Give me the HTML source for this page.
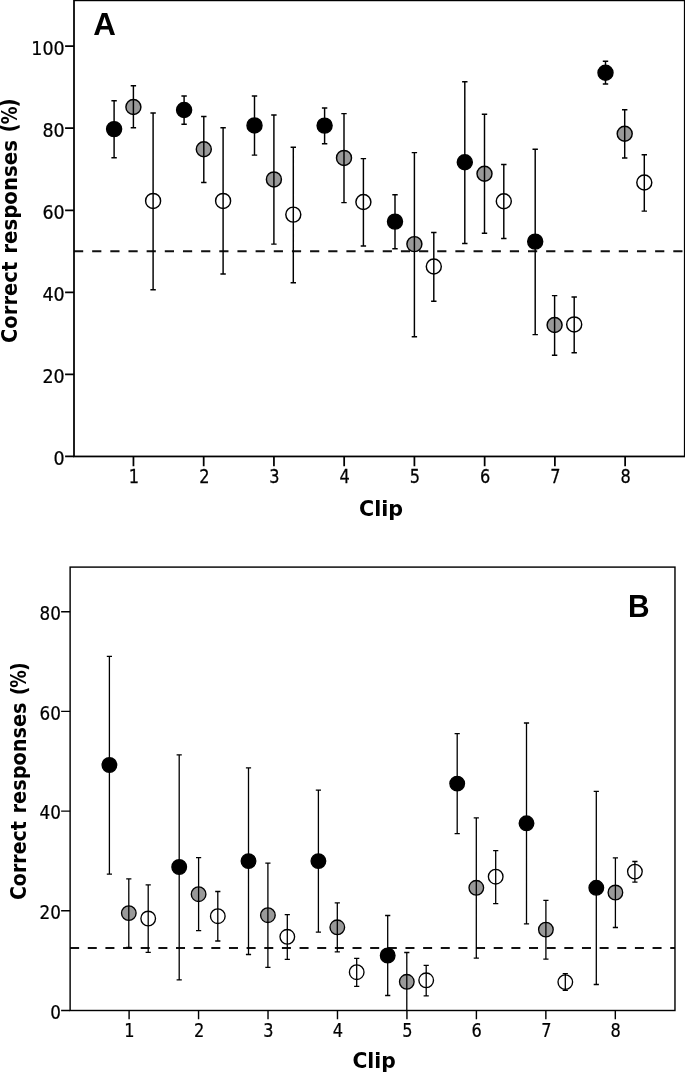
<!DOCTYPE html>
<html lang="en">
<head>
<meta charset="utf-8">
<title>Correct responses by clip</title>
<style>
html,body{margin:0;padding:0;background:#fff;}
body{width:685px;height:1072px;overflow:hidden;}
svg{display:block;}
</style>
</head>
<body>
<svg width="685" height="1072" viewBox="0 0 685 1072">
<rect width="685" height="1072" fill="#fff"/>
<g id="panelA">
<line x1="74" y1="251.15" x2="684.75" y2="251.15" stroke="#111" stroke-width="1.95" stroke-dasharray="9.2 8.96"/>
<circle cx="114.1" cy="129.1" r="7.5" fill="#000" stroke="#000" stroke-width="1.45"/>
<circle cx="133.4" cy="107" r="7.5" fill="#999" stroke="#000" stroke-width="1.45"/>
<circle cx="153.1" cy="200.9" r="7.5" fill="#fff" stroke="#000" stroke-width="1.45"/>
<circle cx="184.1" cy="110" r="7.5" fill="#000" stroke="#000" stroke-width="1.45"/>
<circle cx="203.8" cy="149.2" r="7.5" fill="#999" stroke="#000" stroke-width="1.45"/>
<circle cx="223.1" cy="200.9" r="7.5" fill="#fff" stroke="#000" stroke-width="1.45"/>
<circle cx="254.5" cy="125.4" r="7.5" fill="#000" stroke="#000" stroke-width="1.45"/>
<circle cx="273.9" cy="179.4" r="7.5" fill="#999" stroke="#000" stroke-width="1.45"/>
<circle cx="293.3" cy="214.6" r="7.5" fill="#fff" stroke="#000" stroke-width="1.45"/>
<circle cx="324.6" cy="125.6" r="7.5" fill="#000" stroke="#000" stroke-width="1.45"/>
<circle cx="344" cy="157.9" r="7.5" fill="#999" stroke="#000" stroke-width="1.45"/>
<circle cx="363.4" cy="202" r="7.5" fill="#fff" stroke="#000" stroke-width="1.45"/>
<circle cx="395" cy="221.6" r="7.5" fill="#000" stroke="#000" stroke-width="1.45"/>
<circle cx="414.4" cy="244.1" r="7.5" fill="#999" stroke="#000" stroke-width="1.45"/>
<circle cx="433.8" cy="266.5" r="7.5" fill="#fff" stroke="#000" stroke-width="1.45"/>
<circle cx="464.8" cy="162.3" r="7.5" fill="#000" stroke="#000" stroke-width="1.45"/>
<circle cx="484.5" cy="173.8" r="7.5" fill="#999" stroke="#000" stroke-width="1.45"/>
<circle cx="503.8" cy="201.3" r="7.5" fill="#fff" stroke="#000" stroke-width="1.45"/>
<circle cx="535.2" cy="241.6" r="7.5" fill="#000" stroke="#000" stroke-width="1.45"/>
<circle cx="554.6" cy="325" r="7.5" fill="#999" stroke="#000" stroke-width="1.45"/>
<circle cx="574.2" cy="324.4" r="7.5" fill="#fff" stroke="#000" stroke-width="1.45"/>
<circle cx="605.5" cy="72.7" r="7.5" fill="#000" stroke="#000" stroke-width="1.45"/>
<circle cx="624.7" cy="133.7" r="7.5" fill="#999" stroke="#000" stroke-width="1.45"/>
<circle cx="644.3" cy="182.5" r="7.5" fill="#fff" stroke="#000" stroke-width="1.45"/>
<path d="M114.1 100.7V157.7M111.4 100.7H116.8M111.4 157.7H116.8M133.4 85.8V127.8M130.7 85.8H136.1M130.7 127.8H136.1M153.1 112.9V289.7M150.4 112.9H155.8M150.4 289.7H155.8M184.1 96V124.3M181.4 96H186.8M181.4 124.3H186.8M203.8 116.4V182.5M201.1 116.4H206.5M201.1 182.5H206.5M223.1 127.8V274M220.4 127.8H225.8M220.4 274H225.8M254.5 96V155.1M251.8 96H257.2M251.8 155.1H257.2M273.9 115V244.1M271.2 115H276.6M271.2 244.1H276.6M293.3 147.2V282.7M290.6 147.2H296M290.6 282.7H296M324.6 108V143.7M321.9 108H327.3M321.9 143.7H327.3M344 113.6V202.6M341.3 113.6H346.7M341.3 202.6H346.7M363.4 158.6V246M360.7 158.6H366.1M360.7 246H366.1M395 194.8V248.8M392.3 194.8H397.7M392.3 248.8H397.7M414.4 152.6V336.7M411.7 152.6H417.1M411.7 336.7H417.1M433.8 232.5V301.2M431.1 232.5H436.5M431.1 301.2H436.5M464.8 81.8V243.4M462.1 81.8H467.5M462.1 243.4H467.5M484.5 114.3V233.2M481.8 114.3H487.2M481.8 233.2H487.2M503.8 164.5V238.5M501.1 164.5H506.5M501.1 238.5H506.5M535.2 149.2V334.6M532.5 149.2H537.9M532.5 334.6H537.9M554.6 295.6V355.2M551.9 295.6H557.3M551.9 355.2H557.3M574.2 297V352.7M571.5 297H576.9M571.5 352.7H576.9M605.5 61.3V84M602.8 61.3H608.2M602.8 84H608.2M624.7 109.7V158M622 109.7H627.4M622 158H627.4M644.3 154.8V211.1M641.6 154.8H647M641.6 211.1H647" fill="none" stroke="#000" stroke-width="1.45"/>
<rect x="74" y="0.35" width="610.75" height="456.1" fill="none" stroke="#000" stroke-width="1.75"/>
<path d="M133.45 456.45v9.7M203.69 456.45v9.7M273.93 456.45v9.7M344.17 456.45v9.7M414.41 456.45v9.7M484.65 456.45v9.7M554.89 456.45v9.7M625.13 456.45v9.7M74 456.45h-8.9M74 374.39h-8.9M74 292.33h-8.9M74 210.27h-8.9M74 128.21h-8.9M74 46.15h-8.9" fill="none" stroke="#000" stroke-width="1.75"/>
<g font-family="'DejaVu Sans Condensed', 'Liberation Sans', sans-serif" fill="#000" stroke="#000" stroke-width="0.25">
<text transform="translate(128.67 483.3) scale(0.95 1)" font-size="18.9">1</text>
<text transform="translate(199.26 483.3) scale(0.95 1)" font-size="18.9">2</text>
<text transform="translate(269.32 483.3) scale(0.95 1)" font-size="18.9">3</text>
<text transform="translate(339.56 483.3) scale(0.95 1)" font-size="18.9">4</text>
<text transform="translate(409.86 483.3) scale(0.95 1)" font-size="18.9">5</text>
<text transform="translate(479.92 483.3) scale(0.95 1)" font-size="18.9">6</text>
<text transform="translate(550.28 483.3) scale(0.95 1)" font-size="18.9">7</text>
<text transform="translate(620.52 483.3) scale(0.95 1)" font-size="18.9">8</text>
<text transform="translate(53.6 465.45) scale(0.99 1)" font-size="19.6">0</text>
<text transform="translate(42.46 383.39) scale(0.99 1)" font-size="19.6">20</text>
<text transform="translate(42.46 301.33) scale(0.99 1)" font-size="19.6">40</text>
<text transform="translate(42.46 219.27) scale(0.99 1)" font-size="19.6">60</text>
<text transform="translate(42.46 137.21) scale(0.99 1)" font-size="19.6">80</text>
<text transform="translate(31.33 55.15) scale(0.99 1)" font-size="19.6">100</text>
</g>
</g>
<g id="panelB">
<line x1="70.12" y1="948.05" x2="674.97" y2="948.05" stroke="#111" stroke-width="1.95" stroke-dasharray="9.0 8.65"/>
<circle cx="109.4" cy="765" r="7.3" fill="#000" stroke="#000" stroke-width="1.35"/>
<circle cx="128.8" cy="913.1" r="7.3" fill="#999" stroke="#000" stroke-width="1.35"/>
<circle cx="148.2" cy="918.5" r="7.3" fill="#fff" stroke="#000" stroke-width="1.35"/>
<circle cx="179.2" cy="867" r="7.3" fill="#000" stroke="#000" stroke-width="1.35"/>
<circle cx="198.6" cy="894.2" r="7.3" fill="#999" stroke="#000" stroke-width="1.35"/>
<circle cx="217.8" cy="916.2" r="7.3" fill="#fff" stroke="#000" stroke-width="1.35"/>
<circle cx="248.5" cy="861.1" r="7.3" fill="#000" stroke="#000" stroke-width="1.35"/>
<circle cx="267.9" cy="915.2" r="7.3" fill="#999" stroke="#000" stroke-width="1.35"/>
<circle cx="287.3" cy="936.8" r="7.3" fill="#fff" stroke="#000" stroke-width="1.35"/>
<circle cx="318.4" cy="861.1" r="7.3" fill="#000" stroke="#000" stroke-width="1.35"/>
<circle cx="337.3" cy="927.3" r="7.3" fill="#999" stroke="#000" stroke-width="1.35"/>
<circle cx="356.7" cy="972.2" r="7.3" fill="#fff" stroke="#000" stroke-width="1.35"/>
<circle cx="387.7" cy="955.5" r="7.3" fill="#000" stroke="#000" stroke-width="1.35"/>
<circle cx="406.8" cy="981.8" r="7.3" fill="#999" stroke="#000" stroke-width="1.35"/>
<circle cx="426.2" cy="980.3" r="7.3" fill="#fff" stroke="#000" stroke-width="1.35"/>
<circle cx="457.2" cy="783.6" r="7.3" fill="#000" stroke="#000" stroke-width="1.35"/>
<circle cx="476.3" cy="887.8" r="7.3" fill="#999" stroke="#000" stroke-width="1.35"/>
<circle cx="495.7" cy="876.7" r="7.3" fill="#fff" stroke="#000" stroke-width="1.35"/>
<circle cx="526.5" cy="823.3" r="7.3" fill="#000" stroke="#000" stroke-width="1.35"/>
<circle cx="545.9" cy="929.6" r="7.3" fill="#999" stroke="#000" stroke-width="1.35"/>
<circle cx="565.3" cy="982.1" r="7.3" fill="#fff" stroke="#000" stroke-width="1.35"/>
<circle cx="596.3" cy="887.8" r="7.3" fill="#000" stroke="#000" stroke-width="1.35"/>
<circle cx="615.4" cy="892.5" r="7.3" fill="#999" stroke="#000" stroke-width="1.35"/>
<circle cx="634.9" cy="871.6" r="7.3" fill="#fff" stroke="#000" stroke-width="1.35"/>
<path d="M109.4 656.4V874.1M106.8 656.4H112M106.8 874.1H112M128.8 878.8V947.5M126.2 878.8H131.4M126.2 947.5H131.4M148.2 884.9V952.4M145.6 884.9H150.8M145.6 952.4H150.8M179.2 754.8V979.8M176.6 754.8H181.8M176.6 979.8H181.8M198.6 857.7V930.7M196 857.7H201.2M196 930.7H201.2M217.8 891.5V941M215.2 891.5H220.4M215.2 941H220.4M248.5 767.8V954.5M245.9 767.8H251.1M245.9 954.5H251.1M267.9 863.1V967.4M265.3 863.1H270.5M265.3 967.4H270.5M287.3 914.7V959.4M284.7 914.7H289.9M284.7 959.4H289.9M318.4 790.1V932.2M315.8 790.1H321M315.8 932.2H321M337.3 902.9V951.9M334.7 902.9H339.9M334.7 951.9H339.9M356.7 958.4V986.3M354.1 958.4H359.3M354.1 986.3H359.3M387.7 915.5V995.5M385.1 915.5H390.3M385.1 995.5H390.3M406.8 952.5V1010.5M404.2 952.5H409.4M426.2 965.4V995.8M423.6 965.4H428.8M423.6 995.8H428.8M457.2 733.7V833.7M454.6 733.7H459.8M454.6 833.7H459.8M476.3 817.9V958.2M473.7 817.9H478.9M473.7 958.2H478.9M495.7 850.7V903.6M493.1 850.7H498.3M493.1 903.6H498.3M526.5 723V923.9M523.9 723H529.1M523.9 923.9H529.1M545.9 900.3V959.1M543.3 900.3H548.5M543.3 959.1H548.5M565.3 973.7V990.4M562.7 973.7H567.9M562.7 990.4H567.9M596.3 791.3V984.5M593.7 791.3H598.9M593.7 984.5H598.9M615.4 857.9V927.5M612.8 857.9H618M612.8 927.5H618M634.9 861.5V882.1M632.3 861.5H637.5M632.3 882.1H637.5" fill="none" stroke="#000" stroke-width="1.3"/>
<rect x="70.12" y="567.1" width="604.85" height="443.4" fill="none" stroke="#000" stroke-width="1.42"/>
<path d="M129.1 1010.5v8.8M198.56 1010.5v8.8M268.02 1010.5v8.8M337.48 1010.5v8.8M406.94 1010.5v8.8M476.4 1010.5v8.8M545.86 1010.5v8.8M615.32 1010.5v8.8M70.12 1010.5h-9M70.12 910.8h-9M70.12 811.1h-9M70.12 711.4h-9M70.12 611.7h-9" fill="none" stroke="#000" stroke-width="1.42"/>
<g font-family="'DejaVu Sans Condensed', 'Liberation Sans', sans-serif" fill="#000" stroke="#000" stroke-width="0.22">
<text transform="translate(124.22 1036.9) scale(0.95 1)" font-size="18.9">1</text>
<text transform="translate(194.03 1036.9) scale(0.95 1)" font-size="18.9">2</text>
<text transform="translate(263.31 1036.9) scale(0.95 1)" font-size="18.9">3</text>
<text transform="translate(332.77 1036.9) scale(0.95 1)" font-size="18.9">4</text>
<text transform="translate(402.29 1036.9) scale(0.95 1)" font-size="18.9">5</text>
<text transform="translate(471.57 1036.9) scale(0.95 1)" font-size="18.9">6</text>
<text transform="translate(541.15 1036.9) scale(0.95 1)" font-size="18.9">7</text>
<text transform="translate(610.61 1036.9) scale(0.95 1)" font-size="18.9">8</text>
<text transform="translate(50.32 1018.7) scale(0.99 1)" font-size="18.85">0</text>
<text transform="translate(39.56 919) scale(0.99 1)" font-size="18.85">20</text>
<text transform="translate(39.56 819.3) scale(0.99 1)" font-size="18.85">40</text>
<text transform="translate(39.56 719.6) scale(0.99 1)" font-size="18.85">60</text>
<text transform="translate(39.56 619.9) scale(0.99 1)" font-size="18.85">80</text>
</g>
</g>
<g id="titles" fill="#000">
<text transform="translate(93.15 34.6)" font-family="'Liberation Sans', sans-serif" font-weight="bold" font-size="31.3" >A</text>
<text transform="translate(627.89 616.6) scale(0.9680 1)" font-family="'Liberation Sans', sans-serif" font-weight="bold" font-size="30.9" >B</text>
<text transform="translate(358.95 515.8) scale(1.0452 1)" font-family="'DejaVu Sans Condensed', 'Liberation Sans', sans-serif" font-weight="bold" font-size="22" >Clip</text>
<text transform="translate(352.45 1067.5) scale(1.0548 1)" font-family="'DejaVu Sans Condensed', 'Liberation Sans', sans-serif" font-weight="bold" font-size="21.4" >Clip</text>
<text transform="translate(17.2 342.99) rotate(-90) scale(0.9879 1)" font-family="'DejaVu Sans Condensed', 'Liberation Sans', sans-serif" font-weight="bold" font-size="22" >Correct</text>
<text transform="translate(17.2 253.83) rotate(-90) scale(1.0013 1)" font-family="'DejaVu Sans Condensed', 'Liberation Sans', sans-serif" font-weight="bold" font-size="22" >responses</text>
<text transform="translate(17.2 132.59) rotate(-90) scale(0.9957 1)" font-family="'DejaVu Sans Condensed', 'Liberation Sans', sans-serif" font-weight="bold" font-size="22.4" >(</text>
<text transform="translate(17.2 124.16) rotate(-90) scale(0.8966 1)" font-family="'DejaVu Sans Condensed', 'Liberation Sans', sans-serif" font-weight="bold" font-size="22" >%</text>
<text transform="translate(17.2 107.4) rotate(-90) scale(0.9872 1)" font-family="'DejaVu Sans Condensed', 'Liberation Sans', sans-serif" font-weight="bold" font-size="22.4" >)</text>
<text transform="translate(25.5 900.09) rotate(-90) scale(0.9873 1)" font-family="'DejaVu Sans Condensed', 'Liberation Sans', sans-serif" font-weight="bold" font-size="21.4" >Correct</text>
<text transform="translate(25.5 813.43) rotate(-90) scale(1.0035 1)" font-family="'DejaVu Sans Condensed', 'Liberation Sans', sans-serif" font-weight="bold" font-size="21.4" >responses</text>
<text transform="translate(25.5 695.25) rotate(-90) scale(0.9826 1)" font-family="'DejaVu Sans Condensed', 'Liberation Sans', sans-serif" font-weight="bold" font-size="21.7" >(</text>
<text transform="translate(25.5 687.67) rotate(-90) scale(0.9056 1)" font-family="'DejaVu Sans Condensed', 'Liberation Sans', sans-serif" font-weight="bold" font-size="21.4" >%</text>
<text transform="translate(25.5 670.89) rotate(-90) scale(0.9778 1)" font-family="'DejaVu Sans Condensed', 'Liberation Sans', sans-serif" font-weight="bold" font-size="21.7" >)</text>
</g>
</svg>
</body>
</html>
